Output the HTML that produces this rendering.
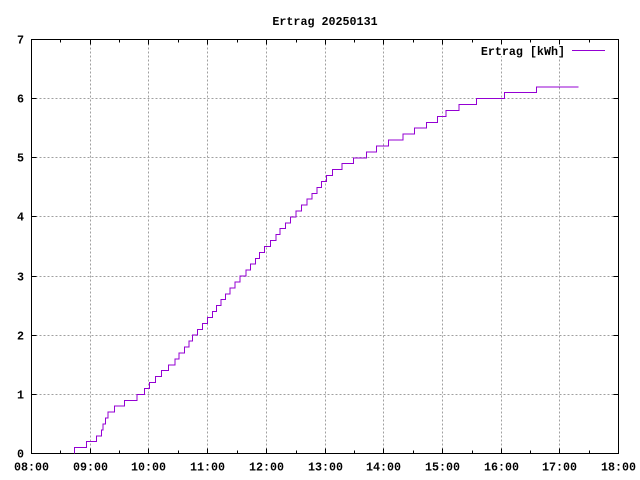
<!DOCTYPE html>
<html><head><meta charset="utf-8"><style>
html,body{margin:0;padding:0;background:#fff;}
svg{display:block;}
text{font-family:"Liberation Mono","DejaVu Sans Mono",monospace;font-weight:bold;font-size:11.7px;fill:#000;}
</style></head><body>
<svg width="640" height="480" viewBox="0 0 640 480" xmlns="http://www.w3.org/2000/svg">
<rect x="0" y="0" width="640" height="480" fill="#fff"/>
<!-- grid -->
<g stroke="#a0a0a0" stroke-width="1" stroke-dasharray="2 2" shape-rendering="crispEdges" fill="none">
<path d="M90.5 39.5V453.5M148.5 39.5V453.5M207.5 39.5V453.5M266.5 39.5V453.5M325.5 39.5V453.5M383.5 39.5V453.5M442.5 39.5V453.5M501.5 39.5V453.5M559.5 39.5V453.5"/>
<path d="M31.5 394.5H618.5M31.5 335.5H618.5M31.5 276.5H618.5M31.5 216.5H618.5M31.5 157.5H618.5M31.5 98.5H618.5"/>
</g>
<!-- key background -->
<rect x="476" y="40" width="138" height="16" fill="#fff"/>
<!-- frame and ticks -->
<g stroke="#000" stroke-width="1" shape-rendering="crispEdges" fill="none">
<rect x="31.5" y="39.5" width="587" height="414"/>
<path d="M90.5 453.5v-5M148.5 453.5v-5M207.5 453.5v-5M266.5 453.5v-5M325.5 453.5v-5M383.5 453.5v-5M442.5 453.5v-5M501.5 453.5v-5M559.5 453.5v-5"/>
<path d="M90.5 39.5v5M148.5 39.5v5M207.5 39.5v5M266.5 39.5v5M325.5 39.5v5M383.5 39.5v5M442.5 39.5v5M501.5 39.5v5M559.5 39.5v5"/>
<path d="M60.5 453.5v-3M119.5 453.5v-3M178.5 453.5v-3M237.5 453.5v-3M296.5 453.5v-3M354.5 453.5v-3M413.5 453.5v-3M472.5 453.5v-3M530.5 453.5v-3M589.5 453.5v-3"/>
<path d="M60.5 39.5v3M119.5 39.5v3M178.5 39.5v3M237.5 39.5v3M296.5 39.5v3M354.5 39.5v3M413.5 39.5v3M472.5 39.5v3M530.5 39.5v3M589.5 39.5v3"/>
<path d="M31.5 394.5h5M31.5 335.5h5M31.5 276.5h5M31.5 216.5h5M31.5 157.5h5M31.5 98.5h5"/>
<path d="M618.5 394.5h-5M618.5 335.5h-5M618.5 276.5h-5M618.5 216.5h-5M618.5 157.5h-5M618.5 98.5h-5"/>
</g>
<!-- title -->
<text x="325" y="25" text-anchor="middle">Ertrag 20250131</text>
<!-- y labels -->
<g text-anchor="end">
<text x="24" y="457.5">0</text>
<text x="24" y="398.5">1</text>
<text x="24" y="339.5">2</text>
<text x="24" y="280.5">3</text>
<text x="24" y="220.5">4</text>
<text x="24" y="161.5">5</text>
<text x="24" y="102.5">6</text>
<text x="24" y="43.5">7</text>
</g>
<!-- x labels -->
<g text-anchor="middle">
<text x="31.5" y="470.5">08:00</text>
<text x="90.5" y="470.5">09:00</text>
<text x="148.5" y="470.5">10:00</text>
<text x="207.5" y="470.5">11:00</text>
<text x="266.5" y="470.5">12:00</text>
<text x="325.5" y="470.5">13:00</text>
<text x="383.5" y="470.5">14:00</text>
<text x="442.5" y="470.5">15:00</text>
<text x="501.5" y="470.5">16:00</text>
<text x="559.5" y="470.5">17:00</text>
<text x="618.5" y="470.5">18:00</text>
</g>
<!-- legend -->
<text x="565" y="55" text-anchor="end">Ertrag [kWh]</text>
<path d="M572 50.5H605" stroke="#9400d3" stroke-width="1" shape-rendering="crispEdges"/>
<!-- data -->
<path fill="none" stroke="#9400d3" stroke-width="1" shape-rendering="crispEdges" d="M74.7,453.5 V447.6 H86.5 V441.7 H96.5 V435.8 H101.3 V429.8 H103 V423.9 H105.7 V418 H108 V412.1 H114.3 V406.2 H124.3 V400.3 H137 V394.4 H144.3 V388.4 H149.3 V382.5 H155.7 V376.6 H161.7 V370.7 H168.3 V364.8 H175 V358.9 H179 V353 H184.7 V347 H189 V341.1 H192.7 V335.2 H197.3 V329.3 H202.7 V323.4 H207.7 V317.5 H212.3 V311.6 H216.3 V305.6 H221 V299.7 H225.3 V293.8 H230 V287.9 H235 V282 H240 V276.1 H246 V270.2 H250.3 V264.2 H255.7 V258.3 H259.3 V252.4 H264.7 V246.5 H270.7 V240.6 H276 V234.7 H280 V228.7 H285.7 V222.8 H290.3 V216.9 H296 V211 H301.7 V205.1 H307 V199.2 H312 V193.3 H317 V187.4 H321.7 V181.4 H326.3 V175.5 H332.3 V169.6 H342 V163.7 H353.7 V157.8 H366.7 V151.9 H376.7 V146 H388.7 V140 H403 V134.1 H414.7 V128.2 H426.3 V122.3 H437.3 V116.4 H446 V110.5 H459 V104.6 H476.7 V98.6 H504.7 V92.7 H536.7 V86.8 H578.7"/>
</svg>
</body></html>
